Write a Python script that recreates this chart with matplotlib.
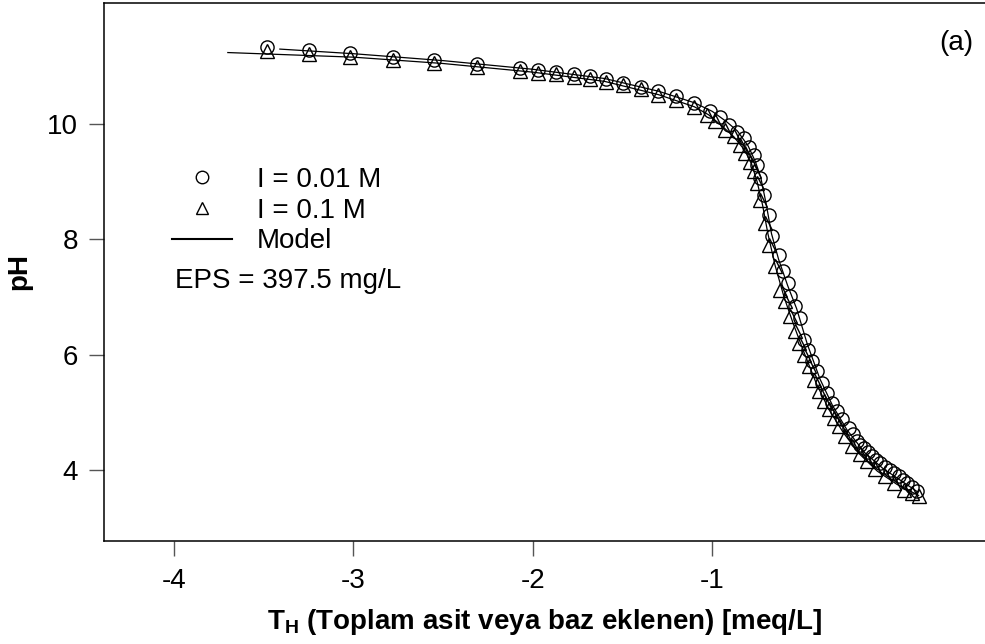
import matplotlib
matplotlib.use("Agg")
import matplotlib.pyplot as plt
from matplotlib.lines import Line2D

plt.rcParams['font.family'] = ['Liberation Sans', 'DejaVu Sans']
plt.rcParams['mathtext.fontset'] = 'custom'
plt.rcParams['mathtext.rm'] = 'Liberation Sans'
plt.rcParams['mathtext.bf'] = 'Liberation Sans:bold'

# --- data ---
# I = 0.01 M (circles)
th_c = [-3.48, -3.25, -3.02, -2.78, -2.55, -2.31, -2.07, -1.97, -1.87, -1.77,
        -1.68, -1.59, -1.50, -1.40, -1.30, -1.20, -1.10, -1.01, -0.959, -0.909,
        -0.862, -0.825, -0.797, -0.770, -0.751, -0.732, -0.710, -0.686, -0.667,
        -0.630, -0.606, -0.580, -0.565, -0.537, -0.509, -0.491, -0.468, -0.444,
        -0.416, -0.388, -0.360, -0.332, -0.304, -0.276, -0.240, -0.215, -0.193,
        -0.175, -0.156, -0.130, -0.109, -0.085, -0.063, -0.035, -0.007, 0.015,
        0.040, 0.065, 0.087, 0.115, 0.142]
ph_c = [11.33, 11.29, 11.23, 11.17, 11.11, 11.05, 10.97, 10.94, 10.91, 10.87,
        10.83, 10.78, 10.72, 10.65, 10.57, 10.48, 10.37, 10.22, 10.12, 9.99,
        9.87, 9.76, 9.61, 9.47, 9.29, 9.06, 8.77, 8.43, 8.05,
        7.73, 7.45, 7.24, 7.01, 6.84, 6.64, 6.26, 6.09, 5.89,
        5.71, 5.51, 5.34, 5.16, 5.02, 4.88, 4.73, 4.62, 4.50,
        4.44, 4.38, 4.31, 4.24, 4.18, 4.12, 4.06, 4.00, 3.95,
        3.89, 3.83, 3.78, 3.70, 3.63]

# I = 0.1 M (triangles)
th_t = [-3.48, -3.25, -3.02, -2.78, -2.55, -2.31, -2.07, -1.97, -1.87, -1.77,
        -1.68, -1.59, -1.50, -1.40, -1.30, -1.20, -1.10, -1.030, -0.983, -0.927,
        -0.881, -0.844, -0.816, -0.788, -0.770, -0.751, -0.732, -0.704, -0.686,
        -0.649, -0.621, -0.593, -0.565, -0.537, -0.518, -0.491, -0.463, -0.435,
        -0.407, -0.379, -0.351, -0.323, -0.295, -0.258, -0.221, -0.174, -0.137,
        -0.091, -0.035, 0.011, 0.067, 0.114, 0.151]
ph_t = [11.26, 11.21, 11.16, 11.11, 11.06, 10.99, 10.92, 10.89, 10.86, 10.82,
        10.78, 10.73, 10.67, 10.60, 10.51, 10.42, 10.30, 10.16, 10.05, 9.90,
        9.79, 9.64, 9.50, 9.35, 9.18, 8.98, 8.69, 8.28, 7.91,
        7.53, 7.13, 6.93, 6.67, 6.41, 6.20, 6.00, 5.80, 5.57,
        5.37, 5.19, 5.05, 4.90, 4.76, 4.59, 4.41, 4.27, 4.15,
        4.01, 3.89, 3.78, 3.66, 3.61, 3.55]

# model curves
th_m1 = [-3.41, -3.0, -2.5, -2.0, -1.6, -1.3, -1.1, -1.0, -0.92, -0.86, -0.80,
         -0.76, -0.73, -0.70, -0.67, -0.63, -0.58, -0.53, -0.47, -0.40, -0.33,
         -0.25, -0.15, -0.05, 0.05, 0.14]
ph_m1 = [11.30, 11.22, 11.10, 10.95, 10.79, 10.57, 10.37, 10.22, 10.04, 9.88, 9.62,
         9.35, 9.08, 8.62, 8.10, 7.65, 7.20, 6.80, 6.18, 5.58, 5.12,
         4.70, 4.30, 4.03, 3.82, 3.63]
th_m2 = [-3.70, -3.0, -2.5, -2.0, -1.6, -1.3, -1.1, -1.02, -0.94, -0.88, -0.82,
         -0.78, -0.75, -0.72, -0.69, -0.65, -0.60, -0.55, -0.49, -0.42, -0.35,
         -0.27, -0.18, -0.08, 0.03, 0.15]
ph_m2 = [11.24, 11.16, 11.05, 10.90, 10.74, 10.51, 10.30, 10.16, 9.95, 9.78, 9.55,
         9.30, 9.00, 8.60, 8.10, 7.55, 7.00, 6.55, 6.05, 5.50, 5.05,
         4.65, 4.28, 3.98, 3.75, 3.56]

xticks = [-4, -3, -2, -1]
yticks = [4, 6, 8, 10]

fs = 20

fig = plt.figure(figsize=(9.85, 6.44), dpi=100)
ax = fig.add_axes([0.1056, 0.160, 0.8944, 0.8354])

ax.plot(th_m1, ph_m1, color='black', lw=0.9)
ax.plot(th_m2, ph_m2, color='black', lw=0.9)
ax.plot(th_c, ph_c, 'o', ms=9.5, mfc='none', mec='black', mew=1.0)
ax.plot(th_t, ph_t, '^', ms=9.5, mfc='none', mec='black', mew=1.0)

ax.set_xlim(-4.39, 0.52)
ax.set_ylim(2.77, 12.10)
ax.set_xticks(xticks)
ax.set_yticks(yticks)
ax.set_xticklabels([str(t) for t in xticks])
ax.tick_params(direction='out', length=10.5, width=1, color='#555555',
               labelsize=fs)
ax.tick_params(axis='x', pad=9)
ax.tick_params(axis='y', pad=8)
ax.spines['right'].set_visible(False)
for s in ['left', 'bottom', 'top']:
    ax.spines[s].set_linewidth(1.1)

ax.set_xlabel(r'$\mathbf{T_H}$ (Toplam asit veya baz eklenen) [meq/L]',
              fontsize=fs, fontweight='bold', labelpad=9)
ax.set_ylabel('pH', fontsize=fs, fontweight='bold', labelpad=11)

handles = [Line2D([], [], ls='none', marker='o', ms=9, mfc='none', mec='black', mew=1.0),
           Line2D([], [], ls='none', marker='^', ms=9, mfc='none', mec='black', mew=1.0),
           Line2D([], [], color='black', lw=1.5)]
ax.legend(handles, ['I = 0.01 M', 'I = 0.1 M', 'Model'], loc='upper left',
          bbox_to_anchor=(0.0768, 0.6955), frameon=False, fontsize=fs,
          handlelength=2.16, handletextpad=0.9, labelspacing=0.17,
          borderpad=0, borderaxespad=0)

ax.text(0.0806, 0.483, 'EPS = 397.5 mg/L', transform=ax.transAxes,
        fontsize=fs, va='center', ha='left')
ax.text(0.967, 0.926, '(a)', transform=ax.transAxes,
        fontsize=fs, va='center', ha='center')

fig.savefig('out.png', dpi=100)
